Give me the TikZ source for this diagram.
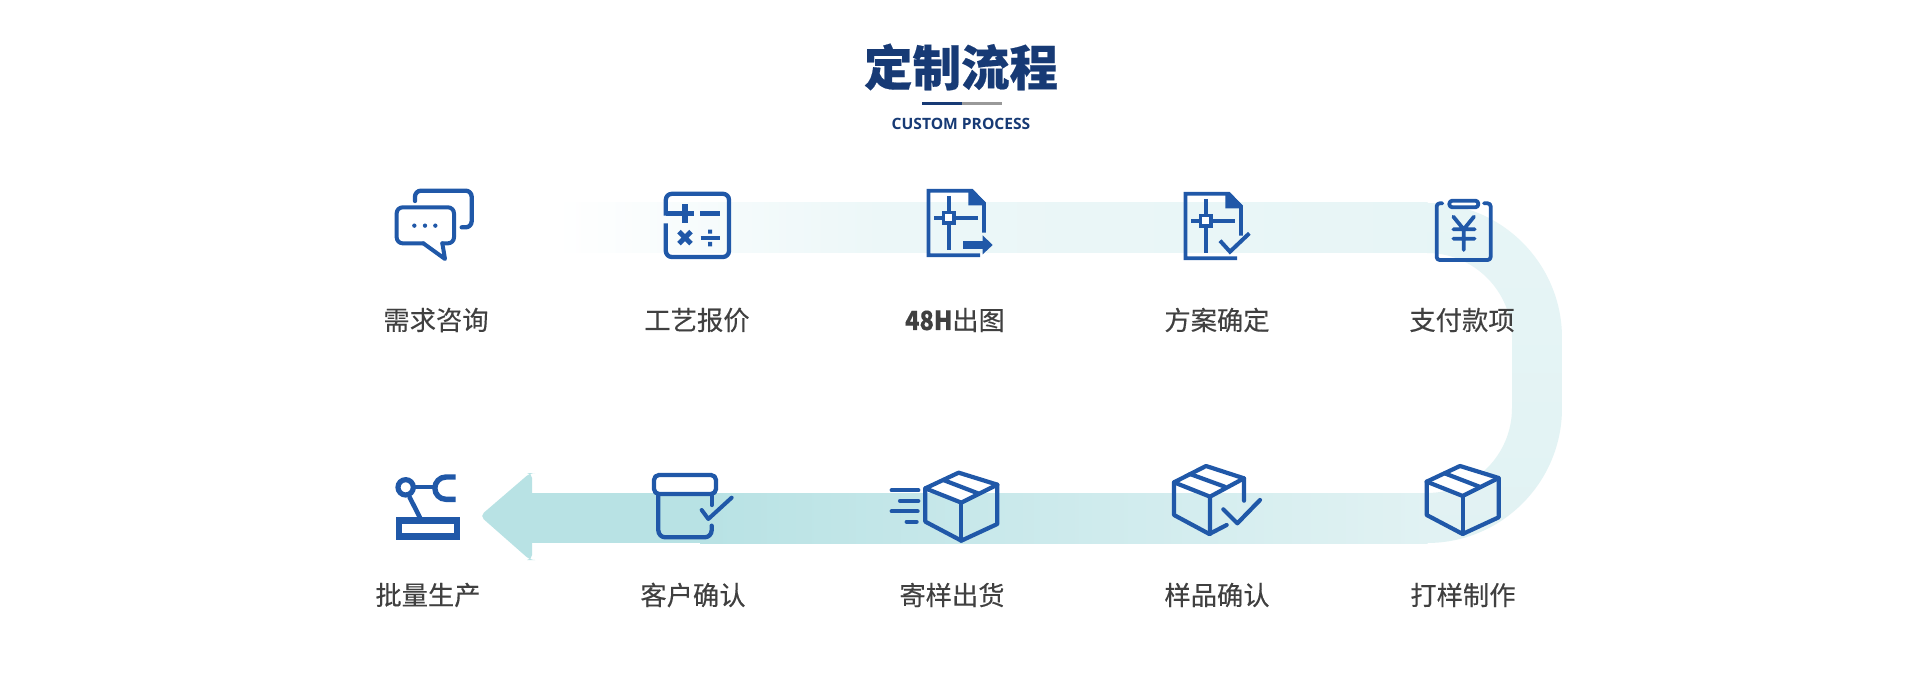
\documentclass[tikz,border=0pt]{standalone}
\usepackage{fontspec}
\setmainfont{Noto Sans CJK SC}
\newfontfamily\latinfont{Open Sans}
\definecolor{ib}{HTML}{2058A8}
\definecolor{navy}{HTML}{173A75}
\definecolor{txt}{HTML}{404040}
\definecolor{bandA}{HTML}{ECF7F8}
\definecolor{bandB}{HTML}{E7F5F6}
\definecolor{bandC}{HTML}{E1F2F3}
\definecolor{bandD}{HTML}{CFEBED}
\definecolor{bandE}{HTML}{B8E2E4}
\tikzset{
  lbl/.style={font=\fontsize{26.3}{30}\selectfont\addfontfeature{FakeBold=0.25},text=txt,inner sep=0pt,anchor=center},
  ic/.style={draw=ib,line cap=round,line join=round,line width=4.3pt},
  icf/.style={fill=ib,draw=none},
  z/.style={shift={#1},scale=1/3}
}
\newcommand{\docicon}{%
  \draw[draw=ib,line width=3.7pt,line join=miter] (300,256)--(145.5,256)--(145.5,62)--(275,62)--(312,100)--(312,188);
  \fill[icf] (265,58)--(278,58)--(316,97)--(316,106)--(265,106)--cycle;
  \draw[draw=ib,line width=4pt] (206,78)--(206,240);
  \draw[draw=ib,line width=3.7pt] (163,143)--(295,143);
  \fill[icf] (185,122) rectangle (227,164);
  \fill[white] (196,133) rectangle (216,154);
}
\newcommand{\cubeicon}{%
  \fill[white] (0,0)--(116,36)--(8,90)--(-100,47)--cycle;
  \draw[ic,line width=4.2pt] (0,0)--(116,36)--(116,154)--(8,204)--(-100,147)--(-100,47)--cycle;
  \draw[ic,line width=4.2pt] (-100,47)--(8,90)--(116,36);
  \draw[ic,line width=4.2pt] (8,90)--(8,204);
  \draw[ic,line width=4.2pt] (-46,22)--(58,62);
}
\begin{document}
\begin{tikzpicture}[x=1pt,y=-1pt]
\useasboundingbox (0,0) rectangle (1920,692);
\fill[white] (0,0) rectangle (1920,692);
% band
\shade[left color=white,right color=bandA] (555,203) rectangle (880,253);
\shade[left color=bandA,right color=bandB] (880,203) rectangle (1427.5,253);
\shade[top color=bandB,bottom color=bandC] (1427,203) arc[start angle=-90,end angle=0,radius=135] -- (1562,408) arc[start angle=0,end angle=90,radius=135] -- (1427,493) arc[start angle=90,end angle=0,radius=85] -- (1512,338) arc[start angle=0,end angle=-90,radius=85] -- cycle;
\shade[left color=bandD,right color=bandC] (1100,493) rectangle (1427.5,543);
\shade[left color=bandE,right color=bandD] (700,493) rectangle (1100.5,543);
\fill[bandE] (532,493) rectangle (700.5,543);
\fill[bandE,rounded corners=5pt] (532,493) -- (532,473) -- (530,473) -- (480,516) -- (530,560) -- (532,560) -- (532,543) -- cycle;
% title
\node[inner sep=0pt,text=navy,font=\fontsize{48.5}{52}\bfseries\selectfont\addfontfeature{FakeBold=0.4}] (title) at (961,67) {定制流程};
\fill[navy] (922,102) rectangle (962,105.5);
\fill[black!40] (962,102) rectangle (1002,105.5);
\node[inner sep=0pt,text=navy,font=\latinfont\fontsize{15.6}{18}\bfseries\selectfont] (sub) at (961,123.5) {CUSTOM PROCESS};
% labels
\node[lbl] (l1) at (436,320) {需求咨询};
\node[lbl] (l2) at (697,320) {工艺报价};
\node[lbl] (l3) at (955,320) {\scalebox{.9}[1]{\textbf{48H}}出图};
\node[lbl] (l4) at (1217,320) {方案确定};
\node[lbl] (l5) at (1462,320) {支付款项};
\node[lbl] (l6) at (428,595) {批量生产};
\node[lbl] (l7) at (693,595) {客户确认};
\node[lbl] (l8) at (952,595) {寄样出货};
\node[lbl] (l9) at (1217,595) {样品确认};
\node[lbl] (l10) at (1463,595) {打样制作};
% chat icon
\begin{scope}[z={(360,170)}]
\draw[ic,rounded corners=6pt] (165,93)--(165,62)--(335,62)--(335,172)--(305,172);
\draw[ic,line width=4pt,rounded corners=6pt] (247,220)--(282,220)--(282,112)--(110,112)--(110,220)--(190,220);
\draw[ic,line width=4pt] (190,220)--(255,267)--(247,220);
\foreach \xx in {163,195,226} \fill[ib] (\xx,167) circle[radius=6.5];
% calculator
\draw[ic,line cap=butt,rounded corners=6pt] (917.5,160)--(917.5,261)--(1107,261)--(1107,71.5)--(917.5,71.5)--(917.5,137);
\draw[draw=ib,line width=5.4pt] (917,130)--(1003,130);
\draw[draw=ib,line width=5.4pt] (975,103)--(975,158);
\draw[draw=ib,line width=5.4pt] (1020,130)--(1080,130);
\draw[draw=ib,line width=5pt] (957,185)--(993,221) (957,221)--(993,185);
\draw[draw=ib,line width=3.8pt] (1022,203)--(1080,203);
\fill[ib] (1044,179) rectangle (1056,191) (1044,216) rectangle (1056,229);
\end{scope}
% document + arrow
\begin{scope}[z={(880,170)}]
\docicon
\fill[ib] (250,212) rectangle (308,238);
\fill[ib] (308,196)--(338,225)--(308,253)--cycle;
\end{scope}
% document + check
\begin{scope}[z={(880,170)}]
\begin{scope}[shift={(771,9)}]
\docicon
\end{scope}
\draw[draw=ib,line width=4pt] (1020,212)--(1050,245)--(1108,190);
\end{scope}
% yen clipboard
\begin{scope}[z={(1280,180)}]
\draw[ic,line width=3.8pt,rounded corners=3pt] (487,70)--(470,70)--(470,240)--(632,240)--(632,70)--(612,70);
\draw[ic,line width=3.8pt,rounded corners=3pt] (508,62) rectangle (595,82);
\draw[ic,line width=3.8pt] (520,110)--(551,148)--(582,110) (520,148)--(584,148) (520,176)--(584,176) (551,148)--(551,210);
% cube
\begin{scope}[shift={(540,858)}]
\cubeicon
\end{scope}
\end{scope}
% robot
\begin{scope}[z={(360,450)}]
\draw[draw=ib,line width=5.2pt] (137,112) circle[radius=23];
\draw[draw=ib,line width=4pt] (163,112)--(228,112);
\draw[draw=ib,line width=4.6pt] (148,140)--(182,207);
\draw[draw=ib,line width=5.4pt] (287,81)--(258,81) arc[start angle=-90,end angle=-270,radius=33.5] --(287,148);
\draw[draw=ib,line width=6.8pt] (117,212) rectangle (291,260);
% box
\draw[ic,rounded corners=5pt] (882,75) rectangle (1068,132);
\draw[ic,rounded corners=7pt] (895,132)--(895,262)--(1055,262)--(1055,227);
\draw[ic] (1055,135)--(1055,165);
\draw[ic,line width=4pt] (1025,180)--(1045,207)--(1115,143);
\end{scope}
% shipping cube, checked cube
\begin{scope}[z={(880,450)}]
\begin{scope}[shift={(236,68)}]
\cubeicon
\end{scope}
\draw[ic,line width=4.1pt] (35,121)--(115,121) (60,153)--(115,153) (35,184)--(113,184) (80,215)--(110,215);
\fill[white] (978,48)--(1092,85)--(990,140)--(882,97)--cycle;
\draw[ic,line width=4.2pt] (1092,152)--(1092,85)--(978,48)--(882,97)--(882,195)--(988,252)--(1040,225);
\draw[ic,line width=4.2pt] (882,97)--(990,140)--(1092,85) (990,140)--(990,252) (930,72)--(1034,110);
\draw[ic,line width=4.2pt] (1030,178)--(1072,220)--(1140,150);
\end{scope}
\end{tikzpicture}
\end{document}
